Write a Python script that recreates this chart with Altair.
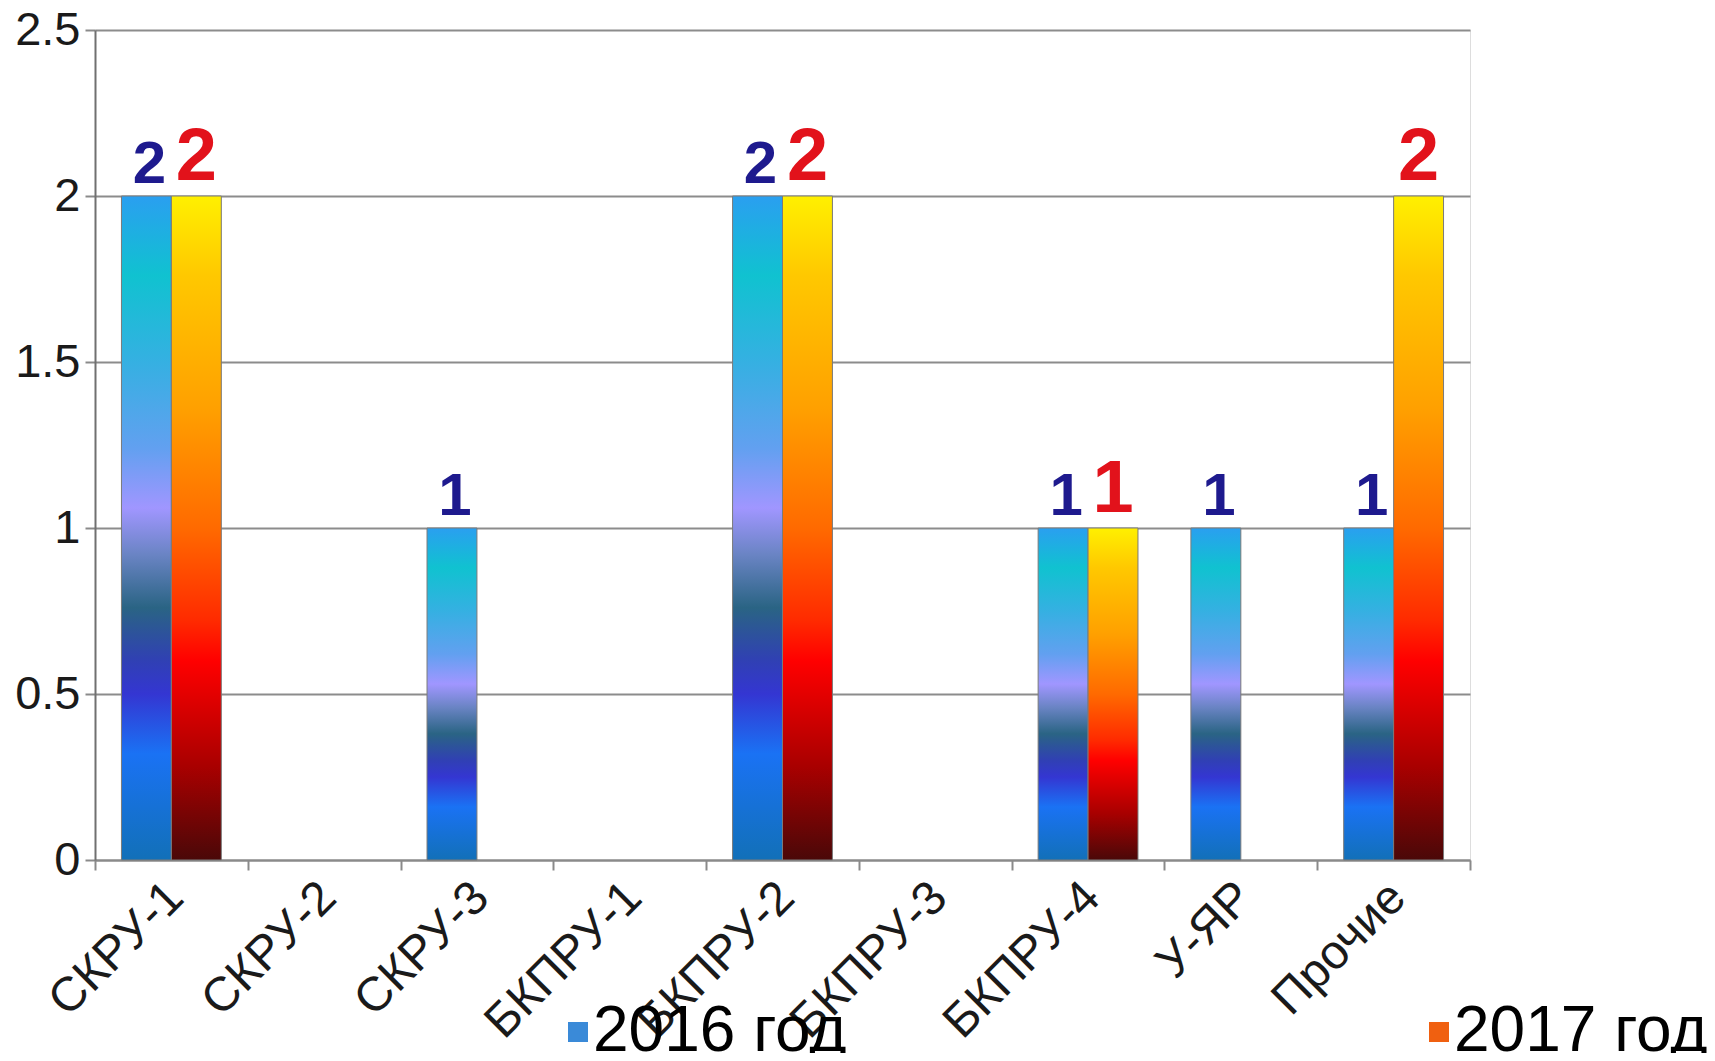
import altair as alt
import pandas as pd

categories = ["СКРУ-1", "СКРУ-2", "СКРУ-3", "БКПРУ-1", "БКПРУ-2", "БКПРУ-3", "БКПРУ-4", "У-ЯР", "Прочие"]
years = ["2016", "2017"]
values_2016 = [2, 0, 1, 0, 2, 0, 1, 1, 1]
values_2017 = [2, 0, 0, 0, 2, 0, 1, 0, 2]
legend_labels = ["2016 год", "2017 год"]
y_ticks = [0, 0.5, 1, 1.5, 2, 2.5]

rows = []
for c, v in zip(categories, values_2016):
    rows.append({"category": c, "year": "2016", "value": v, "legend": legend_labels[0]})
for c, v in zip(categories, values_2017):
    rows.append({"category": c, "year": "2017", "value": v, "legend": legend_labels[1]})
df = pd.DataFrame(rows)
df = df[df["value"] > 0]

FONT = "Liberation Sans"

grad_2016 = alt.Gradient(
    gradient="linear", x1=0, x2=0, y1=0, y2=1,
    stops=[
        alt.GradientStop(color="#2a9ff0", offset=0.0),
        alt.GradientStop(color="#10c2d0", offset=0.12),
        alt.GradientStop(color="#35b0e2", offset=0.25),
        alt.GradientStop(color="#62a0f0", offset=0.38),
        alt.GradientStop(color="#a096ff", offset=0.47),
        alt.GradientStop(color="#6a84c4", offset=0.54),
        alt.GradientStop(color="#2a6484", offset=0.62),
        alt.GradientStop(color="#3040b4", offset=0.70),
        alt.GradientStop(color="#3436d2", offset=0.75),
        alt.GradientStop(color="#1a72f4", offset=0.84),
        alt.GradientStop(color="#1270b8", offset=1.0),
    ],
)
grad_2017 = alt.Gradient(
    gradient="linear", x1=0, x2=0, y1=0, y2=1,
    stops=[
        alt.GradientStop(color="#fff000", offset=0.0),
        alt.GradientStop(color="#ffc800", offset=0.12),
        alt.GradientStop(color="#ffa000", offset=0.32),
        alt.GradientStop(color="#ff6a00", offset=0.50),
        alt.GradientStop(color="#ff2a00", offset=0.64),
        alt.GradientStop(color="#ff0000", offset=0.70),
        alt.GradientStop(color="#a80000", offset=0.86),
        alt.GradientStop(color="#4a0808", offset=1.0),
    ],
)

x_enc = alt.X(
    "category:N", sort=categories,
    scale=alt.Scale(domain=categories, paddingInner=0, paddingOuter=0),
    axis=alt.Axis(
        title=None, labelAngle=-45, labelAlign="right", labelBaseline="middle",
        labelFontSize=48, labelFont=FONT, labelColor="#1a1a1a", labelPadding=20,
        labelOffset=4, tickBand="extent", tickSize=10, tickColor="#8a8a8a",
        tickWidth=2, domainColor="#8a8a8a", domainWidth=2, grid=False,
        labelLimit=400,
    ),
)
xo_enc = alt.XOffset("year:N", scale=alt.Scale(domain=years, paddingOuter=0.53, paddingInner=0))
y_enc = alt.Y(
    "value:Q",
    scale=alt.Scale(domain=[0, 2.5], nice=False),
    axis=alt.Axis(
        title=None, values=y_ticks, format="~g", labelFontSize=47, labelFont=FONT,
        labelColor="#1a1a1a", labelPadding=5, tickSize=10, tickColor="#8a8a8a",
        tickWidth=2, domainColor="#707070", domainWidth=2, grid=True,
        gridColor="#8c8c8c", gridWidth=2,
    ),
)

base = alt.Chart(df).encode(x=x_enc, xOffset=xo_enc, y=y_enc)

bars16 = base.transform_filter(alt.datum.year == "2016").mark_bar(
    fill=grad_2016, stroke="#7a7a7a", strokeWidth=1)
bars17 = base.transform_filter(alt.datum.year == "2017").mark_bar(
    fill=grad_2017, stroke="#7a7a7a", strokeWidth=1)

text16 = base.transform_filter(alt.datum.year == "2016").mark_text(
    font=FONT, fontWeight="bold", fontSize=60, color="#1e1a8e",
    baseline="alphabetic", dy=-13, dx=3).encode(text="value:Q")
text17 = base.transform_filter(alt.datum.year == "2017").mark_text(
    font=FONT, fontWeight="bold", fontSize=74, color="#e2121b",
    baseline="alphabetic", dy=-16).encode(text="value:Q")

legend_layer = base.mark_square(opacity=0, size=10).encode(
    color=alt.Color(
        "legend:N",
        scale=alt.Scale(domain=legend_labels, range=["#3a8ad8", "#f06010"]),
        legend=alt.Legend(
            title=None, orient="none", legendX=434, legendY=970,
            direction="horizontal", columns=2, columnPadding=543,
            symbolType="M0.7,-1H2.7V1H0.7Z", symbolSize=400, symbolOpacity=1,
            symbolStrokeWidth=0, labelFontSize=64, labelFont=FONT,
            labelColor="#000000", labelOffset=0, labelLimit=600, padding=0,
        ),
    )
)

chart = alt.layer(bars16, bars17, text16, text17, legend_layer).properties(
    width=1375, height=830,
    autosize=alt.AutoSizeParams(type="none"),
    padding={"left": 87, "top": 22, "right": 237, "bottom": 193},
).configure_view(stroke=None).configure(background="white")

chart.save("out.html", embed_options={"renderer": "svg", "actions": False})
